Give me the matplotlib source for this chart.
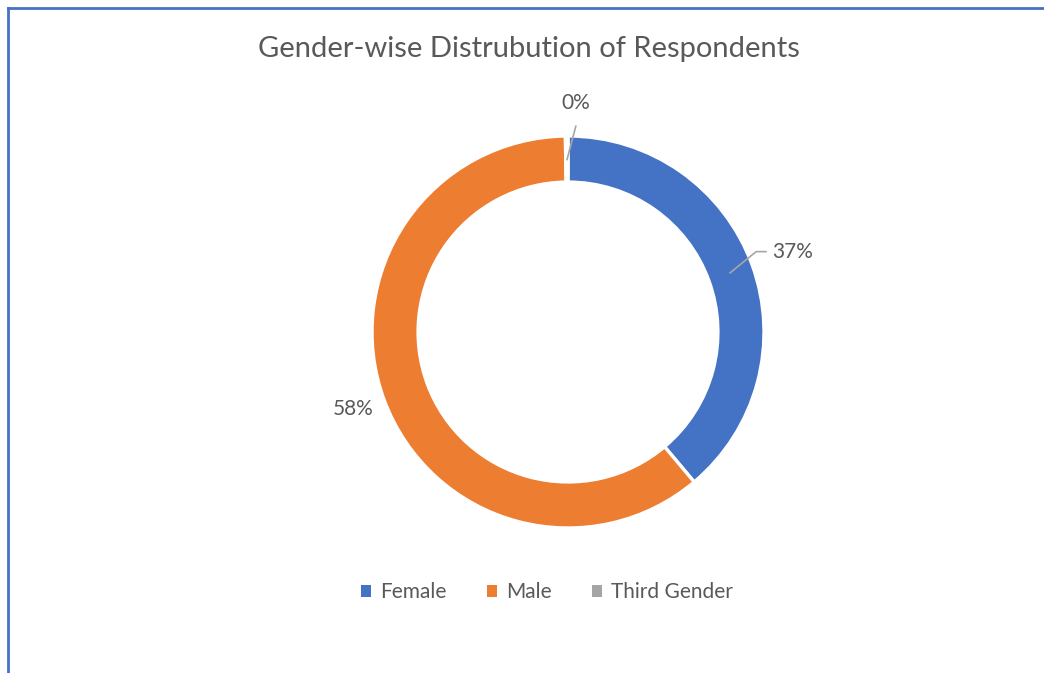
import numpy as np
import matplotlib.pyplot as plt
from matplotlib.lines import Line2D
from matplotlib.patches import Patch

plt.rcParams["font.family"] = ["Lato", "DejaVu Sans"]

genders = ["Female", "Male", "Third Gender"]
shares = [37, 58, 0.2]
colors = ["#4472C4", "#ED7D31", "#A5A5A5"]
text_color = "#595959"

W, H = 1044, 673
fig = plt.figure(figsize=(W / 100, H / 100), dpi=100)

# square axes centred on the ring, radius 1 = 196 px
cx, cy, r_px = 568, 332, 196
half = 1.5 * r_px
ax = fig.add_axes([(cx - half) / W, (H - cy - half) / H, 2 * half / W, 2 * half / H])

wedges, _ = ax.pie(
    shares,
    colors=colors,
    startangle=90,
    counterclock=False,
    radius=1.0,
    wedgeprops=dict(width=0.235, edgecolor="white", linewidth=2.4),
)
ax.set_xlim(-1.5, 1.5)
ax.set_ylim(-1.5, 1.5)
ax.set_aspect("equal")
ax.axis("off")

for w, g, v in zip(wedges, genders, shares):
    mid = np.deg2rad((w.theta1 + w.theta2) / 2)
    lab = f"{v:.0f}%"
    if g == "Female":
        p0 = (0.88 * np.cos(mid), 0.88 * np.sin(mid))
        ax.plot([p0[0], 0.96, 1.01], [p0[1], 0.41, 0.41], color="#A6A6A6", lw=1.2)
        ax.text(1.04, 0.41, lab, ha="left", va="center", fontsize=15, color=text_color)
    elif g == "Third Gender":
        ax.plot([-0.005, 0.04], [0.88, 1.05], color="#A6A6A6", lw=1.2)
        ax.text(0.04, 1.17, lab, ha="center", va="center", fontsize=15, color=text_color)
    else:
        x = 1.12 * np.cos(mid)
        y = 1.12 * np.sin(mid)
        ax.text(x + 0.06, y, lab, ha="right", va="center", fontsize=15, color=text_color)

fig.text(529 / W, 1 - 49 / H, "Gender-wise Distrubution of Respondents",
         ha="center", va="center", fontsize=21, color=text_color)

handles = [Patch(facecolor=c, edgecolor="none") for c in colors]
fig.legend(handles, genders, loc="center", bbox_to_anchor=(547 / W, 1 - 592 / H),
           ncol=3, frameon=False, fontsize=15, labelcolor=text_color,
           handlelength=0.5, handleheight=0.5, handletextpad=0.45, columnspacing=1.9)

# chart border (top and left edges visible)
fig.add_artist(Line2D([8 / W, 8 / W], [0, 1 - 8 / H], color="#4472C4", lw=2))
fig.add_artist(Line2D([8 / W, 1], [1 - 8 / H, 1 - 8 / H], color="#4472C4", lw=2))

fig.savefig("out.png", dpi=100)
